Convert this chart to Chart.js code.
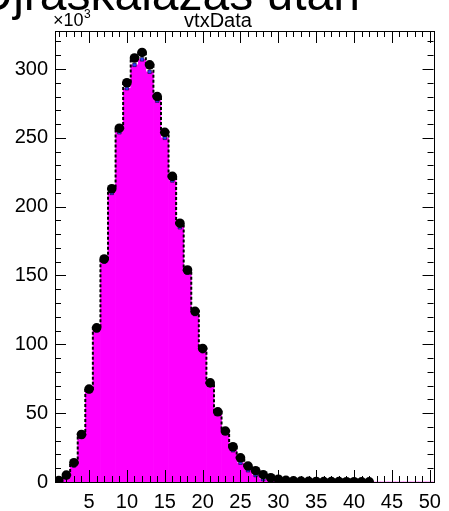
<!DOCTYPE html>
<html>
<head>
<meta charset="utf-8">
<script src="https://cdn.jsdelivr.net/npm/chart.js@4.4.0/dist/chart.umd.min.js"></script>
<style>
  html, body { margin: 0; padding: 0; background: #fff; }
  #wrap { width: 449px; height: 511px; position: relative; }
</style>
</head>
<body>
<div id="wrap"><canvas id="chart-vtx"></canvas></div>
<script>
// bin centres (x) and contents in units of 10^3
const bins = [1, 2, 3, 4, 5, 6, 7, 8, 9, 10, 11, 12, 13, 14, 15, 16, 17, 18, 19, 20,
  21, 22, 23, 24, 25, 26, 27, 28, 29, 30, 31, 32, 33, 34, 35, 36, 37, 38, 39, 40,
  41, 42, 43, 44, 45, 46, 47, 48, 49, 50];

// measured data (black points, dashed outline)
const dataCounts = [1.0, 5.0, 14.0, 34.5, 67.5, 112, 162, 213, 257, 290,
  308, 312, 303, 280, 254, 222, 188, 154, 124, 97,
  72, 51, 37, 25.6, 17.6, 11.6, 8.2, 5.3, 3.1, 2.0,
  1.2, 0.8, 0.6, 0.5, 0.4, 0.3, 0.3, 0.25, 0.2, 0.2,
  0.15, 0.1, null, null, null, null, null, null, null, null];

// rescaled simulation (magenta fill, blue squares)
const mcCounts = [0.8, 4.5, 12, 33, 66, 110, 160, 210, 254, 286,
  303, 307, 298, 277, 250, 219, 185, 152, 122, 95,
  71, 50, 36, 23, 14, 8.5, 5, 2, 0.5, 0,
  0, 0, 0, 0, 0, 0, 0, 0, 0, 0,
  0, 0, 0, 0, 0, 0, 0, 0, 0, 0];

const xTicks = [5, 10, 15, 20, 25, 30, 35, 40, 45, 50];
const yTicks = [0, 50, 100, 150, 200, 250, 300];

const titleText = 'Újraskálázás után';
const histName = 'vtxData';

const FONT = '"Liberation Sans", Arial, sans-serif';

const toXY = (arr) => bins.map((b, i) => ({ x: b, y: arr[i] }));

// ROOT style frame: inside ticks on all four sides plus the header texts
const rootFrame = {
  id: 'rootFrame',
  afterDatasetsDraw(chart) {
    const { ctx, chartArea: a, scales: { x, y } } = chart;
    ctx.save();
    ctx.strokeStyle = '#000';
    ctx.lineWidth = 1;
    ctx.beginPath();
    // x ticks: minor at each bin, major at labelled values
    bins.forEach((b) => {
      const px = Math.round(x.getPixelForValue(b)) + 0.5;
      const len = xTicks.includes(b) ? 12 : 6;
      ctx.moveTo(px, a.bottom); ctx.lineTo(px, a.bottom - len);
      ctx.moveTo(px, a.top); ctx.lineTo(px, a.top + len);
    });
    // y ticks: minor every 10k
    for (let v = 0; v <= y.max; v += 10) {
      const py = Math.round(y.getPixelForValue(v)) + 0.5;
      const len = yTicks.includes(v) ? 11 : 6;
      ctx.moveTo(a.left, py); ctx.lineTo(a.left + len, py);
      ctx.moveTo(a.right, py); ctx.lineTo(a.right - len, py);
    }
    ctx.stroke();
    ctx.strokeRect(Math.round(a.left) + 0.5, Math.round(a.top) + 0.5,
      Math.round(a.right - a.left), Math.round(a.bottom - a.top));

    ctx.fillStyle = '#000';
    ctx.textBaseline = 'alphabetic';
    // big title, clipped by the top edge
    ctx.font = '48px ' + FONT;
    ctx.textAlign = 'right';
    ctx.fillText(titleText, 360, 10);
    // histogram name
    ctx.font = '20px ' + FONT;
    ctx.textAlign = 'center';
    ctx.fillText(histName, 218, 27);
    // exponent label
    ctx.textAlign = 'left';
    ctx.font = '18px ' + FONT;
    ctx.fillText('\u00d710', 53, 26);
    ctx.font = '12px ' + FONT;
    ctx.fillText('3', 84, 18);
    ctx.restore();
  }
};

new Chart(document.getElementById('chart-vtx'), {
  type: 'line',
  data: {
    datasets: [
      {
        type: 'line',
        label: 'data',
        data: toXY(dataCounts),
        showLine: false,
        pointStyle: 'circle',
        pointRadius: 4.8,
        pointBackgroundColor: '#000',
        pointBorderColor: '#000',
        pointBorderWidth: 0,
        order: 1
      },
      {
        type: 'line',
        label: 'mc points',
        data: toXY(mcCounts).filter((p) => p.y > 0),
        showLine: false,
        pointStyle: 'rect',
        pointRadius: 2.5,
        pointBackgroundColor: '#2f3cff',
        pointBorderColor: '#000',
        pointBorderWidth: 0.5,
        order: 2
      },
      {
        type: 'line',
        label: 'data outline',
        data: toXY(dataCounts),
        stepped: 'middle',
        borderColor: '#000',
        borderWidth: 2,
        borderDash: [3, 2],
        pointRadius: 0,
        fill: false,
        spanGaps: false,
        order: 3
      },
      {
        type: 'bar',
        label: 'mc',
        data: toXY(mcCounts),
        backgroundColor: '#ff00ff',
        borderWidth: 0,
        barPercentage: 1,
        categoryPercentage: 1,
        order: 4
      }
    ]
  },
  options: {
    responsive: true,
    maintainAspectRatio: false,
    animation: false,
    layout: { padding: { top: 31, right: 12, left: 0, bottom: 0 } },
    plugins: {
      legend: { display: false },
      tooltip: { enabled: false }
    },
    scales: {
      x: {
        type: 'linear',
        min: 0.5,
        max: 50.5,
        offset: false,
        grid: { display: false, drawTicks: false },
        border: { display: false },
        afterBuildTicks: (s) => { s.ticks = xTicks.map((v) => ({ value: v })); },
        afterFit: (s) => { s.height = 29; },
        ticks: {
          color: '#000',
          padding: 8,
          maxRotation: 0,
          autoSkip: false,
          font: { size: 20, family: FONT }
        }
      },
      y: {
        type: 'linear',
        min: 0,
        max: 327.6,
        grid: { display: false, drawTicks: false },
        border: { display: false },
        afterBuildTicks: (s) => { s.ticks = yTicks.map((v) => ({ value: v })); },
        afterFit: (s) => { s.width = 55; },
        ticks: {
          color: '#000',
          padding: 7,
          font: { size: 20, family: FONT }
        }
      }
    }
  },
  plugins: [rootFrame]
});
</script>
</body>
</html>
